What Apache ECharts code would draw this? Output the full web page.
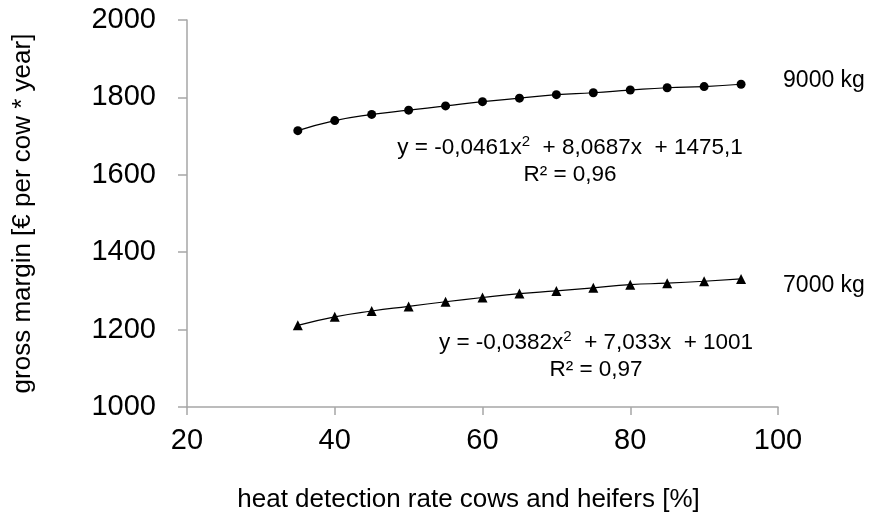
<!DOCTYPE html>
<html>
<head>
<meta charset="utf-8">
<script src="https://cdn.jsdelivr.net/npm/echarts@6/dist/echarts.min.js"></script>
<style>
  html, body { margin: 0; padding: 0; background: #fff; }
  #chart { width: 876px; height: 523px; }
</style>
</head>
<body>
<div id="chart"></div>
<script>
// heat detection rate (%)
const rates = [35, 40, 45, 50, 55, 60, 65, 70, 75, 80, 85, 90, 95];
// gross margin, 9000 kg milk yield
const margin9000 = [1714, 1740, 1756, 1767, 1778, 1789, 1798, 1807, 1812, 1819, 1825, 1828, 1834];
// gross margin, 7000 kg milk yield
const margin7000 = [1211, 1233, 1248, 1260, 1272, 1283, 1293, 1300, 1308, 1316, 1320, 1325, 1331];

const seriesNames = ['9000 kg', '7000 kg'];
const equations = ['y = -0,0461x{sup|2}  + 8,0687x  + 1475,1', 'y = -0,0382x{sup|2}  + 7,033x  + 1001'];
const rSquared = ['R² = 0,96', 'R² = 0,97'];

const font = 'Liberation Sans, Arial, sans-serif';

function pairs(ys) {
    return rates.map((x, i) => [x, ys[i]]);
}

let chart = echarts.init(document.getElementById('chart'));

// centred two-line annotation (trend equation + R²)
function eqText(cx, cy, lines) {
    return {
        type: 'text',
        x: cx,
        y: cy,
        style: {
            text: lines,
            fill: '#000',
            font: '22.5px ' + font,
            align: 'center',
            verticalAlign: 'middle',
            lineHeight: 27,
            rich: {
                sup: { fontSize: 15, verticalAlign: 'top', fill: '#000', padding: [0, 0, 9, 0] }
            }
        }
    };
}

let option = {
    backgroundColor: '#fff',
    animation: false,
    grid: { left: 187, right: 98, top: 20, bottom: 116 },
    xAxis: {
        type: 'value',
        min: 20,
        max: 100,
        interval: 20,
        name: 'heat detection rate cows and heifers [%]',
        nameLocation: 'middle',
        nameGap: 80,
        nameTextStyle: { color: '#000', fontSize: 26, fontFamily: font, padding: [0, 28, 0, 0] },
        axisLine: { lineStyle: { color: '#a6a6a6', width: 1.5 } },
        axisTick: { show: true, length: 8, lineStyle: { color: '#a6a6a6', width: 1.5 } },
        axisLabel: { color: '#000', fontSize: 29, fontFamily: font, margin: 19 },
        splitLine: { show: false }
    },
    yAxis: {
        type: 'value',
        min: 1000,
        max: 2000,
        interval: 200,
        name: 'gross margin [€ per cow * year]',
        nameLocation: 'middle',
        nameGap: 151,
        nameTextStyle: { color: '#000', fontSize: 26, fontFamily: font },
        axisLine: { show: true, lineStyle: { color: '#a6a6a6', width: 1.5 } },
        axisTick: { show: true, length: 9, lineStyle: { color: '#a6a6a6', width: 1.5 } },
        axisLabel: { color: '#000', fontSize: 29, fontFamily: font, margin: 31, formatter: v => String(v) },
        splitLine: { show: false }
    },
    series: [
        {
            name: seriesNames[0],
            type: 'line',
            smooth: true,
            data: pairs(margin9000),
            symbol: 'circle',
            symbolSize: 9,
            itemStyle: { color: '#000' },
            lineStyle: { color: '#000', width: 1.2 },
            endLabel: {
                show: true,
                formatter: '{a}',
                color: '#000',
                fontSize: 23,
                fontFamily: font,
                distance: 42,
                offset: [0, -4]
            }
        },
        {
            name: seriesNames[1],
            type: 'line',
            smooth: true,
            data: pairs(margin7000),
            symbol: 'triangle',
            symbolSize: 10,
            itemStyle: { color: '#000' },
            lineStyle: { color: '#000', width: 1.2 },
            endLabel: {
                show: true,
                formatter: '{a}',
                color: '#000',
                fontSize: 23,
                fontFamily: font,
                distance: 42,
                offset: [0, 7]
            }
        }
    ],
    graphic: [
        eqText(570, 161, equations[0] + '\n' + rSquared[0]),
        eqText(596, 356, equations[1] + '\n' + rSquared[1])
    ]
};

option && chart.setOption(option);
</script>
</body>
</html>
